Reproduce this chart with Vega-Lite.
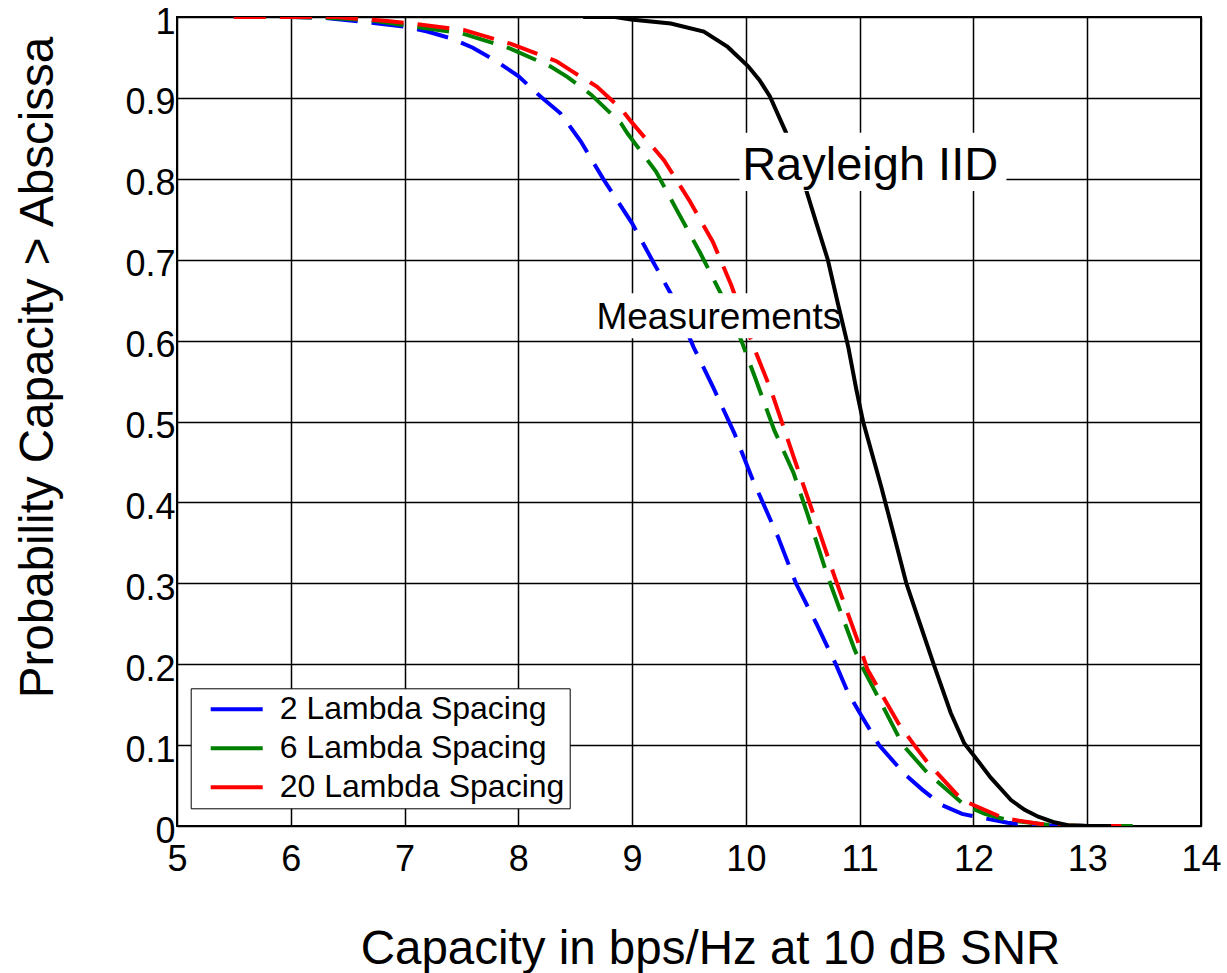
{
  "$schema": "https://vega.github.io/schema/vega-lite/v6.json",
  "width": 1024,
  "height": 809,
  "autosize": {"type": "none"},
  "padding": {"left": 177, "top": 17, "right": 26, "bottom": 147},
  "background": "white",
  "config": {
    "font": "Liberation Sans",
    "view": {"stroke": "black", "strokeWidth": 2},
    "axis": {
      "grid": true, "gridColor": "black", "gridWidth": 1.5, "gridOpacity": 1,
      "domain": false, "ticks": false,
      "labelFont": "Liberation Sans", "labelFontSize": 36, "labelColor": "black", "labelFlush": false, "labelOverlap": false,
      "titleFont": "Liberation Sans", "titleFontSize": 47.5, "titleFontWeight": "normal", "titleColor": "black"
    }
  },
  "datasets": {
    "curves": [
      {"series": "2 Lambda Spacing", "x": 5.5, "y": 1.0},
      {"series": "2 Lambda Spacing", "x": 6.0, "y": 1.0},
      {"series": "2 Lambda Spacing", "x": 6.3, "y": 0.999},
      {"series": "2 Lambda Spacing", "x": 6.7, "y": 0.993},
      {"series": "2 Lambda Spacing", "x": 7.0, "y": 0.988},
      {"series": "2 Lambda Spacing", "x": 7.2, "y": 0.982},
      {"series": "2 Lambda Spacing", "x": 7.4, "y": 0.974},
      {"series": "2 Lambda Spacing", "x": 7.6, "y": 0.962},
      {"series": "2 Lambda Spacing", "x": 7.8, "y": 0.946},
      {"series": "2 Lambda Spacing", "x": 8.0, "y": 0.927},
      {"series": "2 Lambda Spacing", "x": 8.2, "y": 0.901},
      {"series": "2 Lambda Spacing", "x": 8.37, "y": 0.881},
      {"series": "2 Lambda Spacing", "x": 8.55, "y": 0.846},
      {"series": "2 Lambda Spacing", "x": 8.75, "y": 0.799},
      {"series": "2 Lambda Spacing", "x": 9.0, "y": 0.745},
      {"series": "2 Lambda Spacing", "x": 9.19, "y": 0.696},
      {"series": "2 Lambda Spacing", "x": 9.34, "y": 0.658},
      {"series": "2 Lambda Spacing", "x": 9.54, "y": 0.592},
      {"series": "2 Lambda Spacing", "x": 9.72, "y": 0.54},
      {"series": "2 Lambda Spacing", "x": 9.9, "y": 0.485},
      {"series": "2 Lambda Spacing", "x": 10.06, "y": 0.428},
      {"series": "2 Lambda Spacing", "x": 10.28, "y": 0.358},
      {"series": "2 Lambda Spacing", "x": 10.44, "y": 0.3},
      {"series": "2 Lambda Spacing", "x": 10.62, "y": 0.25},
      {"series": "2 Lambda Spacing", "x": 10.79, "y": 0.2},
      {"series": "2 Lambda Spacing", "x": 10.9, "y": 0.164},
      {"series": "2 Lambda Spacing", "x": 11.0, "y": 0.14},
      {"series": "2 Lambda Spacing", "x": 11.17, "y": 0.1},
      {"series": "2 Lambda Spacing", "x": 11.39, "y": 0.065},
      {"series": "2 Lambda Spacing", "x": 11.55, "y": 0.045},
      {"series": "2 Lambda Spacing", "x": 11.72, "y": 0.026},
      {"series": "2 Lambda Spacing", "x": 11.9, "y": 0.015},
      {"series": "2 Lambda Spacing", "x": 12.1, "y": 0.0095},
      {"series": "2 Lambda Spacing", "x": 12.3, "y": 0.004},
      {"series": "2 Lambda Spacing", "x": 12.54, "y": 0.001},
      {"series": "2 Lambda Spacing", "x": 13.0, "y": 0.0},
      {"series": "2 Lambda Spacing", "x": 13.3, "y": 0.0},
      {"series": "6 Lambda Spacing", "x": 5.5, "y": 1.0},
      {"series": "6 Lambda Spacing", "x": 6.0, "y": 1.0},
      {"series": "6 Lambda Spacing", "x": 6.3, "y": 0.999},
      {"series": "6 Lambda Spacing", "x": 6.7, "y": 0.996},
      {"series": "6 Lambda Spacing", "x": 7.1, "y": 0.988},
      {"series": "6 Lambda Spacing", "x": 7.5, "y": 0.98},
      {"series": "6 Lambda Spacing", "x": 7.93, "y": 0.961},
      {"series": "6 Lambda Spacing", "x": 8.28, "y": 0.939},
      {"series": "6 Lambda Spacing", "x": 8.43, "y": 0.926},
      {"series": "6 Lambda Spacing", "x": 8.64, "y": 0.904},
      {"series": "6 Lambda Spacing", "x": 8.9, "y": 0.869},
      {"series": "6 Lambda Spacing", "x": 8.96, "y": 0.856},
      {"series": "6 Lambda Spacing", "x": 9.21, "y": 0.809},
      {"series": "6 Lambda Spacing", "x": 9.41, "y": 0.757},
      {"series": "6 Lambda Spacing", "x": 9.6, "y": 0.708},
      {"series": "6 Lambda Spacing", "x": 9.78, "y": 0.658},
      {"series": "6 Lambda Spacing", "x": 9.96, "y": 0.6},
      {"series": "6 Lambda Spacing", "x": 10.1, "y": 0.547},
      {"series": "6 Lambda Spacing", "x": 10.25, "y": 0.489},
      {"series": "6 Lambda Spacing", "x": 10.42, "y": 0.436},
      {"series": "6 Lambda Spacing", "x": 10.54, "y": 0.386},
      {"series": "6 Lambda Spacing", "x": 10.72, "y": 0.308},
      {"series": "6 Lambda Spacing", "x": 10.95, "y": 0.22},
      {"series": "6 Lambda Spacing", "x": 11.01, "y": 0.2},
      {"series": "6 Lambda Spacing", "x": 11.13, "y": 0.168},
      {"series": "6 Lambda Spacing", "x": 11.38, "y": 0.1},
      {"series": "6 Lambda Spacing", "x": 11.6, "y": 0.065},
      {"series": "6 Lambda Spacing", "x": 11.92, "y": 0.026},
      {"series": "6 Lambda Spacing", "x": 12.1, "y": 0.015},
      {"series": "6 Lambda Spacing", "x": 12.3, "y": 0.0074},
      {"series": "6 Lambda Spacing", "x": 12.68, "y": 0.001},
      {"series": "6 Lambda Spacing", "x": 13.0, "y": 0.0},
      {"series": "6 Lambda Spacing", "x": 13.4, "y": 0.0},
      {"series": "20 Lambda Spacing", "x": 5.5, "y": 1.0},
      {"series": "20 Lambda Spacing", "x": 6.4, "y": 1.0},
      {"series": "20 Lambda Spacing", "x": 6.85, "y": 0.995},
      {"series": "20 Lambda Spacing", "x": 7.11, "y": 0.991},
      {"series": "20 Lambda Spacing", "x": 7.52, "y": 0.984},
      {"series": "20 Lambda Spacing", "x": 7.93, "y": 0.967},
      {"series": "20 Lambda Spacing", "x": 8.34, "y": 0.945},
      {"series": "20 Lambda Spacing", "x": 8.46, "y": 0.934},
      {"series": "20 Lambda Spacing", "x": 8.69, "y": 0.914},
      {"series": "20 Lambda Spacing", "x": 8.9, "y": 0.887},
      {"series": "20 Lambda Spacing", "x": 8.99, "y": 0.871},
      {"series": "20 Lambda Spacing", "x": 9.28, "y": 0.823},
      {"series": "20 Lambda Spacing", "x": 9.5, "y": 0.774},
      {"series": "20 Lambda Spacing", "x": 9.71, "y": 0.722},
      {"series": "20 Lambda Spacing", "x": 9.87, "y": 0.669},
      {"series": "20 Lambda Spacing", "x": 10.06, "y": 0.595},
      {"series": "20 Lambda Spacing", "x": 10.22, "y": 0.539},
      {"series": "20 Lambda Spacing", "x": 10.43, "y": 0.452},
      {"series": "20 Lambda Spacing", "x": 10.57, "y": 0.395},
      {"series": "20 Lambda Spacing", "x": 10.78, "y": 0.308},
      {"series": "20 Lambda Spacing", "x": 10.98, "y": 0.23},
      {"series": "20 Lambda Spacing", "x": 11.07, "y": 0.193},
      {"series": "20 Lambda Spacing", "x": 11.34, "y": 0.127},
      {"series": "20 Lambda Spacing", "x": 11.48, "y": 0.1},
      {"series": "20 Lambda Spacing", "x": 11.6, "y": 0.078},
      {"series": "20 Lambda Spacing", "x": 11.9, "y": 0.032},
      {"series": "20 Lambda Spacing", "x": 12.27, "y": 0.0095},
      {"series": "20 Lambda Spacing", "x": 12.66, "y": 0.001},
      {"series": "20 Lambda Spacing", "x": 13.0, "y": 0.0},
      {"series": "20 Lambda Spacing", "x": 13.3, "y": 0.0},
      {"series": "Rayleigh IID", "x": 8.57, "y": 1.0},
      {"series": "Rayleigh IID", "x": 8.85, "y": 1.0},
      {"series": "Rayleigh IID", "x": 8.99, "y": 0.997},
      {"series": "Rayleigh IID", "x": 9.34, "y": 0.992},
      {"series": "Rayleigh IID", "x": 9.63, "y": 0.982},
      {"series": "Rayleigh IID", "x": 9.84, "y": 0.963},
      {"series": "Rayleigh IID", "x": 10.02, "y": 0.939},
      {"series": "Rayleigh IID", "x": 10.12, "y": 0.922},
      {"series": "Rayleigh IID", "x": 10.21, "y": 0.902},
      {"series": "Rayleigh IID", "x": 10.35, "y": 0.858},
      {"series": "Rayleigh IID", "x": 10.45, "y": 0.82},
      {"series": "Rayleigh IID", "x": 10.53, "y": 0.786},
      {"series": "Rayleigh IID", "x": 10.62, "y": 0.745},
      {"series": "Rayleigh IID", "x": 10.72, "y": 0.7},
      {"series": "Rayleigh IID", "x": 10.81, "y": 0.645},
      {"series": "Rayleigh IID", "x": 10.9, "y": 0.592},
      {"series": "Rayleigh IID", "x": 10.97, "y": 0.54},
      {"series": "Rayleigh IID", "x": 11.03, "y": 0.5},
      {"series": "Rayleigh IID", "x": 11.19, "y": 0.419},
      {"series": "Rayleigh IID", "x": 11.3, "y": 0.36},
      {"series": "Rayleigh IID", "x": 11.41, "y": 0.3},
      {"series": "Rayleigh IID", "x": 11.53, "y": 0.25},
      {"series": "Rayleigh IID", "x": 11.65, "y": 0.2},
      {"series": "Rayleigh IID", "x": 11.8, "y": 0.14},
      {"series": "Rayleigh IID", "x": 11.92, "y": 0.102},
      {"series": "Rayleigh IID", "x": 12.01, "y": 0.086},
      {"series": "Rayleigh IID", "x": 12.15, "y": 0.06},
      {"series": "Rayleigh IID", "x": 12.33, "y": 0.032},
      {"series": "Rayleigh IID", "x": 12.45, "y": 0.02},
      {"series": "Rayleigh IID", "x": 12.57, "y": 0.0115},
      {"series": "Rayleigh IID", "x": 12.7, "y": 0.005},
      {"series": "Rayleigh IID", "x": 12.83, "y": 0.001},
      {"series": "Rayleigh IID", "x": 13.0, "y": 0.0},
      {"series": "Rayleigh IID", "x": 13.21, "y": 0.0}
    ],
    "notes": [
      {"label": "Rayleigh IID", "x": 11.092, "y": 0.7985, "x0": 9.944, "x1": 12.29, "y0": 0.785, "y1": 0.857},
      {"label": "Measurements", "x": 9.762, "y": 0.614, "x0": 8.651, "x1": 10.877, "y0": 0.6028, "y1": 0.6585}
    ]
  },
  "layer": [
    {
      "data": {"name": "curves"},
      "transform": [{"filter": "datum.series === '2 Lambda Spacing'"}],
      "mark": {"type": "line", "strokeWidth": 4, "strokeDash": [32, 14], "clip": true},
      "encoding": {
        "x": {
          "field": "x", "type": "quantitative",
          "scale": {"domain": [5, 14], "nice": false, "zero": false},
          "axis": {
            "values": [5, 6, 7, 8, 9, 10, 11, 12, 13, 14], "format": "d", "labelPadding": 16,
            "title": "Capacity in bps/Hz at 10 dB SNR",
            "titleX": 533, "titleY": 137, "titleBaseline": "alphabetic", "titleAlign": "center"
          }
        },
        "y": {
          "field": "y", "type": "quantitative",
          "scale": {"domain": [0, 1], "nice": false},
          "axis": {
            "values": [0, 0.1, 0.2, 0.3, 0.4, 0.5, 0.6, 0.7, 0.8, 0.9, 1], "format": "~g", "labelPadding": 2, "labelOffset": 5,
            "title": "Probability Capacity > Abscissa",
            "titleX": -125, "titleY": 350, "titleBaseline": "alphabetic", "titleAlign": "center", "titleAngle": 270
          }
        },
        "color": {
          "field": "series", "type": "nominal",
          "scale": {"domain": ["2 Lambda Spacing", "6 Lambda Spacing", "20 Lambda Spacing"], "range": ["#0000ff", "#008000", "#ff0000"]},
          "legend": {
            "orient": "none", "legendX": 13.7, "legendY": 671.3, "title": null,
            "symbolType": "M-2,0L2,0", "symbolSize": 676, "symbolStrokeWidth": 4, "symbolDash": [],
            "labelFont": "Liberation Sans", "labelFontSize": 32, "labelColor": "black", "labelLimit": 600,
            "padding": 5, "rowPadding": 7, "labelOffset": 27, "symbolOffset": 25,
            "fillColor": "white", "strokeColor": "black"
          }
        }
      }
    },
    {
      "data": {"name": "curves"},
      "transform": [{"filter": "datum.series === '6 Lambda Spacing'"}],
      "mark": {"type": "line", "strokeWidth": 4, "strokeDash": [32, 14], "clip": true},
      "encoding": {
        "x": {"field": "x", "type": "quantitative"},
        "y": {"field": "y", "type": "quantitative"},
        "color": {"field": "series", "type": "nominal"}
      }
    },
    {
      "data": {"name": "curves"},
      "transform": [{"filter": "datum.series === '20 Lambda Spacing'"}],
      "mark": {"type": "line", "strokeWidth": 4, "strokeDash": [32, 14], "clip": true},
      "encoding": {
        "x": {"field": "x", "type": "quantitative"},
        "y": {"field": "y", "type": "quantitative"},
        "color": {"field": "series", "type": "nominal"}
      }
    },
    {
      "data": {"name": "notes"},
      "transform": [{"filter": "datum.label === 'Measurements'"}],
      "mark": {"type": "rect", "fill": "white"},
      "encoding": {
        "x": {"field": "x0", "type": "quantitative"},
        "x2": {"field": "x1"},
        "y": {"field": "y0", "type": "quantitative"},
        "y2": {"field": "y1"}
      }
    },
    {
      "data": {"name": "notes"},
      "transform": [{"filter": "datum.label === 'Measurements'"}],
      "mark": {"type": "text", "font": "Liberation Sans", "fontSize": 37, "align": "center", "baseline": "alphabetic", "color": "black"},
      "encoding": {
        "x": {"field": "x", "type": "quantitative"},
        "y": {"field": "y", "type": "quantitative"},
        "text": {"field": "label"}
      }
    },
    {
      "data": {"name": "curves"},
      "transform": [{"filter": "datum.series === 'Rayleigh IID'"}],
      "mark": {"type": "line", "strokeWidth": 4, "color": "black", "clip": true},
      "encoding": {
        "x": {"field": "x", "type": "quantitative"},
        "y": {"field": "y", "type": "quantitative"}
      }
    },
    {
      "data": {"name": "notes"},
      "transform": [{"filter": "datum.label === 'Rayleigh IID'"}],
      "mark": {"type": "rect", "fill": "white"},
      "encoding": {
        "x": {"field": "x0", "type": "quantitative"},
        "x2": {"field": "x1"},
        "y": {"field": "y0", "type": "quantitative"},
        "y2": {"field": "y1"}
      }
    },
    {
      "data": {"name": "notes"},
      "transform": [{"filter": "datum.label === 'Rayleigh IID'"}],
      "mark": {"type": "text", "font": "Liberation Sans", "fontSize": 47, "align": "center", "baseline": "alphabetic", "color": "black"},
      "encoding": {
        "x": {"field": "x", "type": "quantitative"},
        "y": {"field": "y", "type": "quantitative"},
        "text": {"field": "label"}
      }
    }
  ]
}
